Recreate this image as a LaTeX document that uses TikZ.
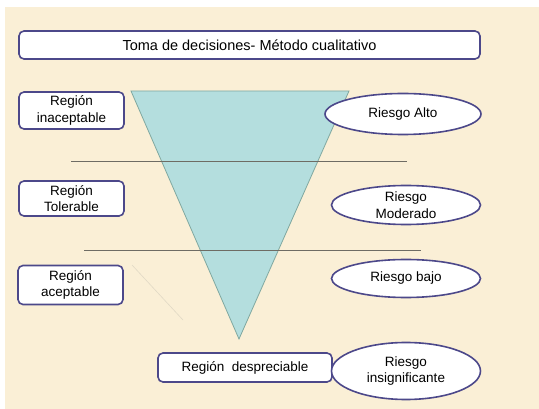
\documentclass[tikz,border=0pt]{standalone}
\usepackage{fontspec}
\setmainfont{Liberation Sans}
\usetikzlibrary{shapes.geometric}
\definecolor{paper}{RGB}{250,239,214}
\definecolor{boxline}{RGB}{76,72,138}
\definecolor{funnel}{RGB}{180,222,222}
\definecolor{funnelline}{RGB}{128,168,160}
\definecolor{rule}{RGB}{110,108,100}
\tikzstyle{region} = [rectangle, rounded corners=5pt, minimum width=105pt, minimum height=37pt, text centered, align=center, draw=boxline, line width=1.6pt, fill=white, font=\fontsize{13.5}{16.5}\selectfont]
\tikzstyle{riesgo} = [ellipse, minimum width=149pt, minimum height=39pt, inner sep=0pt, text centered, align=center, draw=boxline, line width=1.6pt, fill=white, font=\fontsize{13.5}{16.5}\selectfont]
\tikzstyle{divider} = [rule, line width=0.8pt]

\begin{document}
\begin{tikzpicture}
[x=1pt, y=-1pt]

\useasboundingbox (0,0) rectangle (539,409);
\fill[white] (0,0) rectangle (539,409);
\fill[paper] (5,7) rectangle (539,409);

% funnel
\coordinate (tl) at (131,91);
\coordinate (tr) at (349,91);
\coordinate (apex) at (239,339);
\filldraw[fill=funnel, draw=funnelline, line width=0.8pt] (tl) -- (tr) -- (apex) -- cycle;

% faint stroke
\coordinate (f1) at (132,265);
\coordinate (f2) at (183,320);
\draw[paper!80!gray, line width=0.6pt] (f1) -- (f2);

% dividers
\coordinate (d1a) at (71,161);
\coordinate (d1b) at (407,161);
\coordinate (d2a) at (84,250);
\coordinate (d2b) at (421,250);
\draw[divider] (d1a) -- (d1b);
\draw[divider] (d2a) -- (d2b);

\node (title) [region, minimum width=461pt, minimum height=28pt, font=\fontsize{14.5}{17}\selectfont] at (249.5,45) {Toma de decisiones- Método cualitativo};

\node (inacept) [region] at (71.5,110.5) {Región\\inaceptable};
\node (tolera) [region, minimum height=35pt] at (71.5,198.5) {Región\\Tolerable};
\node (acept) [region, minimum height=39pt] at (70.5,285) {Región\\aceptable};
\node (despre) [region, minimum width=174pt, minimum height=29pt] at (245,367.5) {Región\ \ despreciable};

\node (alto) [riesgo, minimum width=156pt, minimum height=41pt] at (403,114) {Riesgo Alto};
\node (moder) [riesgo] at (406,205) {Riesgo\\Moderado};
\node (bajo) [riesgo, minimum height=38pt] at (406,278.5) {Riesgo bajo};
\node (insig) [riesgo, minimum height=57pt] at (406,371) {Riesgo\\insignificante};

\end{tikzpicture}
\end{document}
